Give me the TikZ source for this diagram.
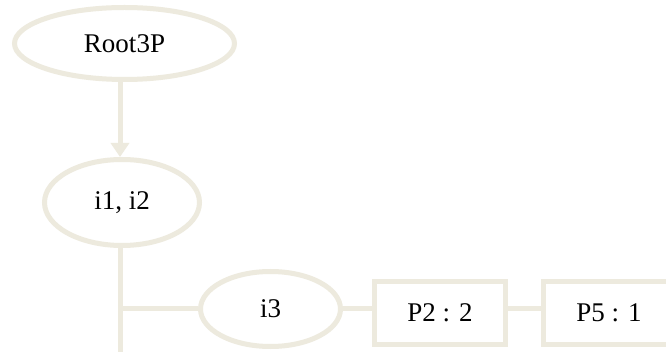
\documentclass[tikz,border=0pt]{standalone}
\usepackage{fontspec}
\setmainfont{Liberation Serif}
\usetikzlibrary{shapes.geometric,arrows.meta}
\definecolor{linebeige}{RGB}{237,234,222}
\tikzset{
  treeline/.style={draw=linebeige, line width=5pt},
  ovalnode/.style={ellipse, treeline, inner sep=0pt, font=\fontsize{27}{31}\selectfont},
  boxnode/.style={rectangle, treeline, inner sep=0pt, minimum width=131pt, minimum height=63.5pt, font=\fontsize{27}{31}\selectfont},
  treelink/.style={linebeige, line width=5pt},
  arrowlink/.style={treelink, -{Triangle[length=14pt,width=18pt]}}
}
\begin{document}
\begin{tikzpicture}[x=1pt, y=-1pt]
  \useasboundingbox (0,0) rectangle (666,352);
  \clip (0,0) rectangle (666,352);
  \fill[white] (0,0) rectangle (666,352);

  % nodes
  \node[ovalnode, minimum width=220pt, minimum height=72pt] (root) at (124.5,43.5) {Root3P};
  \node[ovalnode, minimum width=155pt, minimum height=86pt] (i12) at (122,202.5) {i1, i2};
  \node[ovalnode, minimum width=140pt, minimum height=75pt] (i3) at (270.5,309) {i3};
  \node[boxnode] (p2) at (440,313) {P2 : 2};
  \node[boxnode] (p5) at (609,313) {P5 : 1};

  % trunk of the tree
  \coordinate (trunk) at (120,0);
  \coordinate (fork) at (120,309);
  \coordinate (trunkend) at (120,370);

  % connectors
  \draw[arrowlink] (root.south -| trunk) -- (i12.north -| trunk);
  \draw[treelink] (i12.south -| trunk) -- (trunkend);
  \draw[treelink] (fork) -- (fork -| i3.west);
  \draw[treelink] (i3.east) -- (i3.east -| p2.west);
  \draw[treelink] (p2.east |- i3.east) -- (p5.west |- i3.east);
\end{tikzpicture}
\end{document}
